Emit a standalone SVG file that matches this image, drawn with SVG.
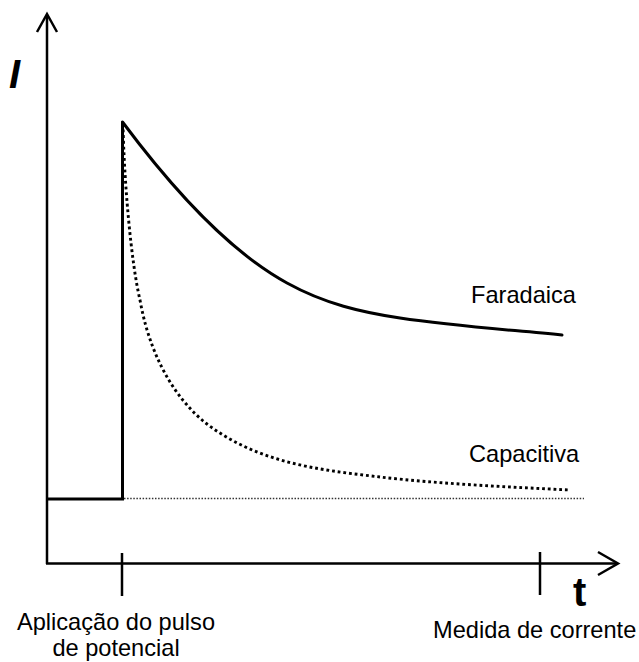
<svg xmlns="http://www.w3.org/2000/svg" width="639" height="662" viewBox="0 0 639 662">
  <style>
    .ln { fill: none; stroke: #000; stroke-width: 2.5; stroke-linejoin: miter; }
    .curve { fill: none; stroke: #000; stroke-width: 3; stroke-linecap: round; }
    .dots { fill: none; stroke: #000; stroke-width: 2.9; stroke-dasharray: 2.8 2.9; }
    .fine { fill: none; stroke: #333; stroke-width: 1.5; stroke-dasharray: 1.5 1.6; }
    .lbl { font-family: "Liberation Sans", Arial, sans-serif; font-size: 23.6px; fill: #000; }
  </style>
  <rect width="639" height="662" fill="#fff"/>
  <g id="axes">
    <line class="ln" x1="47" y1="15" x2="47" y2="564"/>
    <polyline class="ln" points="37,32 47,14 57,32"/>
    <line class="ln" x1="46" y1="563.5" x2="617" y2="563.5"/>
    <polyline class="ln" points="598,552 618,563.5 598,575"/>
    <line class="ln" x1="122" y1="553" x2="122" y2="596"/>
    <line class="ln" x1="540" y1="552" x2="540" y2="595"/>
    <text x="9" y="88" style="font-family:'Liberation Sans',Arial,sans-serif;font-size:40px;font-weight:bold;font-style:italic">I</text>
    <text x="573" y="606" style="font-family:'Liberation Sans',Arial,sans-serif;font-size:40px;font-weight:bold">t</text>
  </g>
  <g id="connectors">
    <path id="pulse" class="ln" d="M47,499 H122.5 V122" style="stroke-width:3"/>
    <path id="baseline-dotted" class="fine" d="M124,498.5 H584"/>
    <path id="faradaica-curve" class="curve" d="M122.5,122 C177,195 232,253 287,283 C325,304 362,312.3 400,318 C454,326 508,329.6 562,335"/>
    <path id="capacitiva-curve" class="dots" d="M123,124 C124,180 131,262 140,300 C152,368 185,412 220,433 C270,465.5 330,471 380,477 C440,484 510,487 570,490"/>
  </g>
  <g id="faradaica">
    <text class="lbl" x="471" y="303">Faradaica</text>
  </g>
  <g id="capacitiva">
    <text class="lbl" x="469" y="462">Capacitiva</text>
  </g>
  <g id="aplicacao">
    <text class="lbl" x="116" y="630" text-anchor="middle">Aplicação do pulso</text>
    <text class="lbl" x="116" y="656" text-anchor="middle">de potencial</text>
  </g>
  <g id="medida">
    <text class="lbl" x="433" y="638">Medida de corrente</text>
  </g>
</svg>
